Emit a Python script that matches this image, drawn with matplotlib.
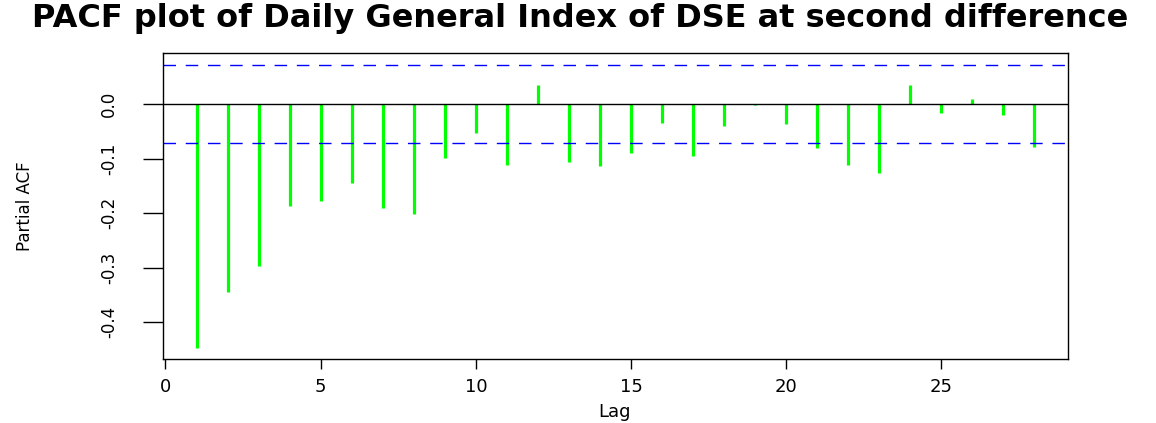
import matplotlib
matplotlib.use("Agg")
import matplotlib.pyplot as plt
import numpy as np

# PACF values
lags = list(range(1, 29))
pacf = [-0.447, -0.345, -0.296, -0.186, -0.177, -0.145, -0.190, -0.201,
        -0.098, -0.053, -0.111, 0.035, -0.107, -0.113, -0.090, -0.034,
        -0.095, -0.041, -0.002, -0.036, -0.081, -0.112, -0.126, 0.035,
        -0.017, 0.010, -0.021, -0.079]
conf = 0.0715
yticks = [-0.4, -0.3, -0.2, -0.1, 0.0]
ytick_labels = ["-0.4", "-0.3", "-0.2", "-0.1", "0.0"]
xticks = [0, 5, 10, 15, 20, 25]

plt.rcParams['font.family'] = ['DejaVu Sans']

fig = plt.figure(figsize=(11.56, 4.23), dpi=100)
ax = fig.add_axes([163 / 1156, 1 - 359 / 423, (1068 - 163) / 1156, (359 - 53) / 423])

ax.vlines(lags, 0, pacf, color="#00ff00", lw=2.3)
ax.axhline(0, color="black", lw=1)
for c in (conf, -conf):
    ax.axhline(c, color="#0000ff", lw=1, dashes=(9, 7))

ax.set_xlim(-0.08, 29.08)
ax.set_ylim(-0.467, 0.0934)

ax.set_xticks(xticks)
ax.set_xticklabels([str(t) for t in xticks], fontsize=13)
ax.set_yticks(yticks)
ax.set_yticklabels(ytick_labels, fontsize=12, rotation=90, va="center")
ax.tick_params(axis="y", length=14.5, width=1, pad=18)
ax.tick_params(axis="x", length=7, width=1, pad=7)

for s in ax.spines.values():
    s.set_linewidth(1)
    s.set_color("black")

fig.text(615 / 1156, 1 - 412 / 423, "Lag", fontsize=13, ha="center", va="center")
fig.text(25 / 1156, 1 - 206 / 423, "Partial ACF", fontsize=12, rotation=90,
         ha="center", va="center")
# title runs off the right edge in the original; keep it whole, left-aligned
fig.text(32 / 1156, 1 - 19 / 423,
         "PACF plot of Daily General Index of DSE at second difference",
         fontsize=23, fontweight="bold", ha="left", va="center")

fig.savefig("out.png", dpi=100)
